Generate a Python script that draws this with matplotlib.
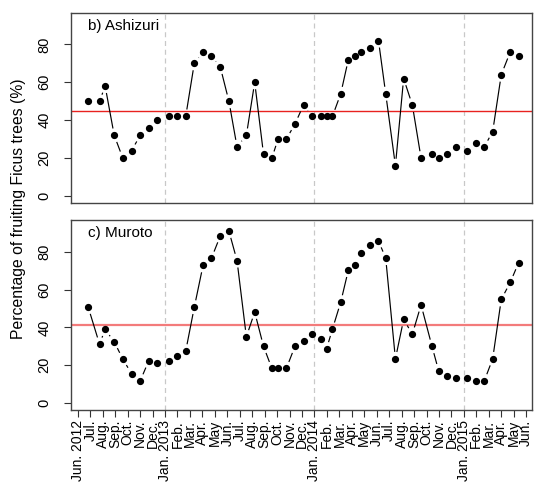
import numpy as np
import matplotlib
matplotlib.use("Agg")
import matplotlib.pyplot as plt

plt.rcParams['font.family'] = ['Liberation Sans', 'DejaVu Sans']

# month index: 0 = Jun. 2012 ... 36 = Jun. 2015
month_labels = ["Jun. 2012", "Jul.", "Aug.", "Sep.", "Oct.", "Nov.", "Dec.",
                "Jan. 2013", "Feb.", "Mar.", "Apr.", "May", "Jun.", "Jul.", "Aug.", "Sep.", "Oct.", "Nov.", "Dec.",
                "Jan. 2014", "Feb.", "Mar.", "Apr.", "May", "Jun.", "Jul.", "Aug.", "Sep.", "Oct.", "Nov.", "Dec.",
                "Jan. 2015", "Feb.", "Mar.", "Apr.", "May", "Jun."]
jan_months = [7, 19, 31]

survey_month = [0.83, 1.74, 2.19, 2.92, 3.61, 4.31, 5.01, 5.68, 6.35, 7.28, 7.98, 8.66,
                9.35, 10.05, 10.73, 11.44, 12.13, 12.78, 13.53, 14.2, 14.91, 15.58, 16.07, 16.74,
                17.43, 18.12, 18.81, 19.52, 19.97, 20.44, 21.11, 21.72, 22.22, 22.72, 23.43, 24.14,
                24.72, 25.5, 26.16, 26.86, 27.56, 28.44, 28.97, 29.64, 30.36, 31.22, 31.94, 32.64,
                33.31, 34.0, 34.72, 35.39]

ashizuri = [50, 50, 58, 32, 20, 24, 32, 36, 40, 42, 42, 42, 70, 76, 74, 68, 50, 26, 32, 60,
            22, 20, 30, 30, 38, 48, 42, 42, 42, 42, 54, 72, 74, 76, 78, 82, 54, 16, 62, 48,
            20, 22, 20, 22, 26, 24, 28, 26, 34, 64, 76, 74]
ashizuri_mean = 45

muroto = [50.7, 31.1, 38.9, 32.3, 23.2, 15.4, 11.7, 22.1, 20.9, 22.1, 24.7, 27.4, 50.7, 72.8,
          76.7, 88.5, 91.0, 75.4, 35.0, 48.1, 29.9, 18.2, 18.2, 18.2, 29.9, 32.5, 36.4, 33.7,
          28.6, 39.0, 53.4, 70.3, 72.9, 79.3, 83.4, 85.8, 76.7, 23.3, 44.2, 36.4, 51.9, 29.9,
          17.0, 14.3, 13.1, 13.1, 11.7, 11.7, 23.3, 54.8, 63.8, 74.2]
muroto_mean = 41.3

y_ticks = [0, 20, 40, 60, 80]

fig = plt.figure(figsize=(5.34, 4.86), dpi=100)
ax1 = fig.add_axes([0.133, 0.583, 0.864, 0.3896])
ax2 = fig.add_axes([0.133, 0.156, 0.864, 0.391])


def gapped_lines(ax, x, y, gap=7.0):
    pts = ax.transData.transform(np.column_stack([x, y]))
    inv = ax.transData.inverted()
    for p0, p1 in zip(pts[:-1], pts[1:]):
        d = p1 - p0
        L = np.hypot(*d)
        if L > 2 * gap:
            u = d / L
            a = inv.transform(p0 + u * gap)
            b = inv.transform(p1 - u * gap)
            ax.plot([a[0], b[0]], [a[1], b[1]], color='black', lw=0.85,
                    solid_capstyle='butt', zorder=3)


def style(ax, vals, mean, mean_color, mean_lw, label, ylim, bottom_labels):
    ax.set_xlim(-0.55, 36.5)
    ax.set_ylim(*ylim)
    for m in jan_months:
        ax.axvline(m, color='#c8c8c8', lw=0.9, ls=(0, (4, 3)), zorder=1)
    ax.axhline(mean, color=mean_color, lw=mean_lw, zorder=2)
    gapped_lines(ax, survey_month, vals)
    ax.plot(survey_month, vals, 'o', color='black', ms=4.2, zorder=4)
    ax.set_yticks(y_ticks)
    ax.set_yticklabels([str(v) for v in y_ticks], rotation=90, va='center', fontsize=10.5)
    ax.tick_params(axis='y', direction='out', length=5, width=0.8, pad=9, color='#333333')
    for s in ax.spines.values():
        s.set_color('#444444')
        s.set_linewidth(1.0)
    ax.text(0.037, 0.935, label, transform=ax.transAxes, fontsize=11,
            ha='left', va='center')
    if bottom_labels:
        ax.set_xticks(range(len(month_labels)))
        ax.set_xticklabels(month_labels, rotation=90, fontsize=10)
        ax.tick_params(axis='x', direction='out', length=5, width=0.8, pad=2, color='#333333')
    else:
        ax.set_xticks([])


style(ax1, ashizuri, ashizuri_mean, '#e8221f', 1.0, 'b) Ashizuri', (-3.5, 96.4), False)
style(ax2, muroto, muroto_mean, '#f37b7b', 1.6, 'c) Muroto', (-3.9, 96.8), True)

fig.text(0.034, 0.57, 'Percentage of fruiting Ficus trees (%)', rotation=90,
         ha='center', va='center', fontsize=11.3)

fig.savefig('out.png', dpi=100)
